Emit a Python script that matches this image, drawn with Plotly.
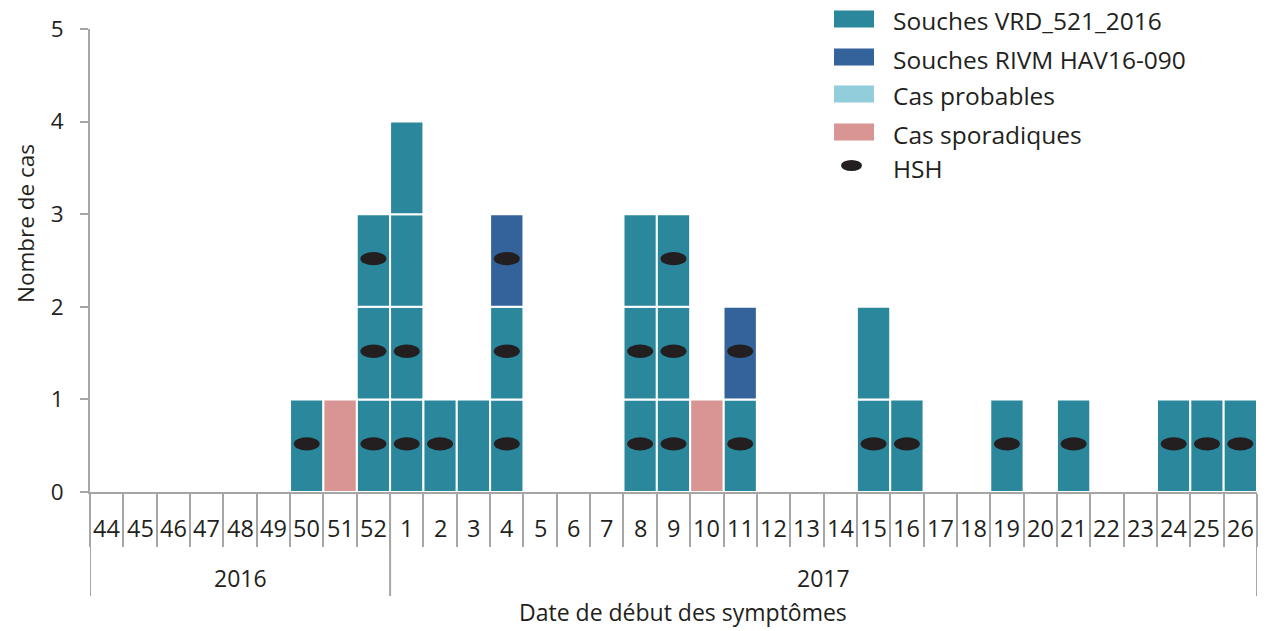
import plotly.graph_objects as go

# ---------------- data ----------------
weeks = ["44", "45", "46", "47", "48", "49", "50", "51", "52",
         "1", "2", "3", "4", "5", "6", "7", "8", "9", "10", "11", "12", "13",
         "14", "15", "16", "17", "18", "19", "20", "21", "22", "23", "24", "25", "26"]
years = ["2016", "2017"]
year_of_week = ["2016"] * 9 + ["2017"] * 26

vrd_521 = [0, 0, 0, 0, 0, 0, 1, 0, 3, 4, 1, 1, 2, 0, 0, 0, 3, 3, 0, 1, 0, 0,
           0, 2, 1, 0, 0, 1, 0, 1, 0, 0, 1, 1, 1]
rivm = [0, 0, 0, 0, 0, 0, 0, 0, 0, 0, 0, 0, 1, 0, 0, 0, 0, 0, 0, 1, 0, 0,
        0, 0, 0, 0, 0, 0, 0, 0, 0, 0, 0, 0, 0]
probables = [0] * 35
sporadiques = [0, 0, 0, 0, 0, 0, 0, 1, 0, 0, 0, 0, 0, 0, 0, 0, 0, 0, 1, 0, 0, 0,
               0, 0, 0, 0, 0, 0, 0, 0, 0, 0, 0, 0, 0]
hsh = [0, 0, 0, 0, 0, 0, 1, 0, 3, 2, 1, 0, 3, 0, 0, 0, 2, 3, 0, 2, 0, 0,
       0, 1, 1, 0, 0, 1, 0, 1, 0, 0, 1, 1, 1]

series_names = ["Souches VRD_521_2016", "Souches RIVM HAV16-090", "Cas probables", "Cas sporadiques"]
series_values = [vrd_521, rivm, probables, sporadiques]
series_colors = ["#2A879C", "#33639A", "#92CDDC", "#D99594"]
HSH_COLOR = "#231F20"
TEXT = "#231F20"
GRAY = "#A6A6A6"
FONT = "Open Sans"

# ---------------- figure ----------------
fig = go.Figure()

cum = [0] * len(weeks)
for name, vals, col in zip(series_names, series_values, series_colors):
    xs, bases, ys = [], [], []
    for i, v in enumerate(vals):
        for k in range(v):
            xs.append(weeks[i])
            bases.append(cum[i] + k)
            ys.append(1)
        cum[i] += v
    fig.add_trace(go.Bar(
        x=xs, y=ys, base=bases, name=name, width=1,
        marker=dict(color=col, line=dict(color="white", width=2)),
        showlegend=False,
    ))

shapes = []
# HSH ellipses in the lowest case segments of each week
for i, n in enumerate(hsh):
    for k in range(n):
        yc = k + 0.52
        shapes.append(dict(type="circle", xref="x", yref="y",
                           x0=i - 0.39, x1=i + 0.39, y0=yc - 0.072, y1=yc + 0.072,
                           fillcolor=HSH_COLOR, line=dict(width=0), layer="above"))

L, R, T, B = 90, 10, 29, 139
W, H = 1267, 631
PW, PH = W - L - R, H - T - B


def px(p):
    return (p - L) / PW


def py(p):
    return (H - B - p) / PH


annotations = []
# week labels
for i, w in enumerate(weeks):
    annotations.append(dict(x=i, xref="x", y=py(528), yref="paper", text=w,
                            showarrow=False, font=dict(size=23.5, color=TEXT, family=FONT),
                            xanchor="center", yanchor="middle"))
# year labels and separators
bounds = []
for yr in years:
    idx = [i for i, y in enumerate(year_of_week) if y == yr]
    bounds.append((idx[0] - 0.5, idx[-1] + 0.5))
    annotations.append(dict(x=(idx[0] + idx[-1]) / 2, xref="x", y=py(578), yref="paper",
                            text=yr, showarrow=False,
                            font=dict(size=23, color=TEXT, family=FONT),
                            xanchor="center", yanchor="middle"))
edges = sorted(set([b for pair in bounds for b in pair]))
for e in edges:
    shapes.append(dict(type="line", xref="x", yref="paper", x0=e, x1=e,
                       y0=0, y1=py(596), line=dict(color=GRAY, width=2)))

# axis titles
annotations.append(dict(x=px(683), xref="paper", y=py(612), yref="paper",
                        text="Date de début des symptômes", showarrow=False,
                        font=dict(size=23, color=TEXT, family=FONT),
                        xanchor="center", yanchor="middle"))
annotations.append(dict(x=px(25), xref="paper", y=py(224), yref="paper",
                        text="Nombre de cas", showarrow=False, textangle=-90,
                        font=dict(size=22.5, color=TEXT, family=FONT),
                        xanchor="center", yanchor="middle"))

# manual legend
row_y = [19, 57, 94, 132]
for name, col, ry in zip(series_names, series_colors, row_y):
    shapes.append(dict(type="rect", xref="paper", yref="paper",
                       x0=px(834), x1=px(874), y0=py(ry + 8.5), y1=py(ry - 8.5),
                       fillcolor=col, line=dict(width=0)))
    annotations.append(dict(x=px(891), xref="paper", y=py(ry + 2), yref="paper",
                            text=name, showarrow=False, xanchor="left", yanchor="middle",
                            font=dict(size=24.5, color=TEXT, family=FONT)))
shapes.append(dict(type="circle", xref="paper", yref="paper",
                   x0=px(841), x1=px(862), y0=py(171), y1=py(160),
                   fillcolor=HSH_COLOR, line=dict(width=0)))
annotations.append(dict(x=px(891), xref="paper", y=py(168), yref="paper",
                        text="HSH", showarrow=False, xanchor="left", yanchor="middle",
                        font=dict(size=24.5, color=TEXT, family=FONT)))

fig.update_layout(
    width=W, height=H,
    margin=dict(l=L, r=R, t=T, b=B),
    paper_bgcolor="white", plot_bgcolor="white",
    barmode="overlay",
    shapes=shapes, annotations=annotations,
    font=dict(family=FONT, color=TEXT),
    xaxis=dict(type="category", categoryorder="array", categoryarray=weeks,
               range=[-0.5, len(weeks) - 0.5],
               showticklabels=False, showgrid=False, showline=True,
               linecolor=GRAY, linewidth=2,
               ticks="outside", tickson="boundaries", ticklen=53,
               tickcolor=GRAY, tickwidth=2),
    yaxis=dict(range=[0, 5], dtick=1, showgrid=False, zeroline=False,
               showline=True, linecolor=GRAY, linewidth=2,
               ticks="outside", ticklen=8, tickcolor=GRAY, tickwidth=2,
               ticklabelstandoff=12,
               tickfont=dict(size=22.5, color=TEXT, family=FONT)),
)

fig.write_html("out.html", config={"displayModeBar": False},
               post_script="document.body.style.margin='0';")
